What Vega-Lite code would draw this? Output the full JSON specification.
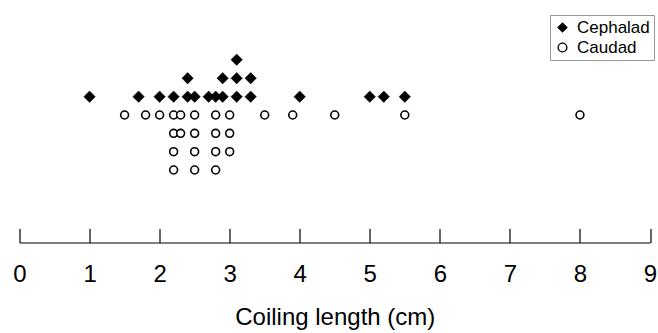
{
  "$schema": "https://vega.github.io/schema/vega-lite/v6.json",
  "autosize": "none",
  "width": 630.5,
  "height": 242.5,
  "padding": {"left": 19.5, "top": 0, "right": 8, "bottom": 91},
  "background": "white",
  "config": {"view": {"stroke": null}, "font": "Liberation Sans"},
  "data": {"values": [
    {"length": 1.0, "group": "Cephalad"},
    {"length": 1.7, "group": "Cephalad"},
    {"length": 2.0, "group": "Cephalad"},
    {"length": 2.2, "group": "Cephalad"},
    {"length": 2.4, "group": "Cephalad"},
    {"length": 2.4, "group": "Cephalad"},
    {"length": 2.5, "group": "Cephalad"},
    {"length": 2.7, "group": "Cephalad"},
    {"length": 2.8, "group": "Cephalad"},
    {"length": 2.9, "group": "Cephalad"},
    {"length": 2.9, "group": "Cephalad"},
    {"length": 3.1, "group": "Cephalad"},
    {"length": 3.1, "group": "Cephalad"},
    {"length": 3.1, "group": "Cephalad"},
    {"length": 3.3, "group": "Cephalad"},
    {"length": 3.3, "group": "Cephalad"},
    {"length": 4.0, "group": "Cephalad"},
    {"length": 5.0, "group": "Cephalad"},
    {"length": 5.2, "group": "Cephalad"},
    {"length": 5.5, "group": "Cephalad"},
    {"length": 1.5, "group": "Caudad"},
    {"length": 1.8, "group": "Caudad"},
    {"length": 2.0, "group": "Caudad"},
    {"length": 2.2, "group": "Caudad"},
    {"length": 2.2, "group": "Caudad"},
    {"length": 2.2, "group": "Caudad"},
    {"length": 2.2, "group": "Caudad"},
    {"length": 2.3, "group": "Caudad"},
    {"length": 2.3, "group": "Caudad"},
    {"length": 2.5, "group": "Caudad"},
    {"length": 2.5, "group": "Caudad"},
    {"length": 2.5, "group": "Caudad"},
    {"length": 2.5, "group": "Caudad"},
    {"length": 2.8, "group": "Caudad"},
    {"length": 2.8, "group": "Caudad"},
    {"length": 2.8, "group": "Caudad"},
    {"length": 2.8, "group": "Caudad"},
    {"length": 3.0, "group": "Caudad"},
    {"length": 3.0, "group": "Caudad"},
    {"length": 3.0, "group": "Caudad"},
    {"length": 3.5, "group": "Caudad"},
    {"length": 3.9, "group": "Caudad"},
    {"length": 4.5, "group": "Caudad"},
    {"length": 5.5, "group": "Caudad"},
    {"length": 8.0, "group": "Caudad"}
  ]},
  "transform": [
    {"window": [{"op": "row_number", "as": "rank"}], "groupby": ["group", "length"]}
  ],
  "encoding": {
    "x": {
      "field": "length", "type": "quantitative",
      "scale": {"domain": [0, 9], "nice": false, "zero": false},
      "axis": {
        "title": "Coiling length (cm)",
        "values": [0, 1, 2, 3, 4, 5, 6, 7, 8, 9],
        "grid": false,
        "domainColor": "black", "domainWidth": 1.2,
        "tickColor": "black", "tickWidth": 1.2, "tickSize": -14,
        "labelFontSize": 24, "labelColor": "black", "labelPadding": 34,
        "labelFlush": false, "labelFont": "Liberation Sans",
        "titleFontSize": 24, "titleFontWeight": "normal", "titleColor": "black",
        "titlePadding": 19, "titleFont": "Liberation Sans"
      }
    },
    "shape": {
      "field": "group", "type": "nominal",
      "scale": {"domain": ["Cephalad", "Caudad"], "range": ["diamond", "circle"]},
      "legend": {
        "title": null, "orient": "none", "legendX": 530.5, "legendY": 15,
        "labelFontSize": 17, "labelColor": "black", "labelFont": "Liberation Sans",
        "strokeColor": "#999", "padding": 4, "symbolSize": 75, "symbolStrokeWidth": 1.4,
        "rowPadding": 2, "labelOffset": 6
      }
    },
    "fill": {
      "field": "group", "type": "nominal",
      "scale": {"domain": ["Cephalad", "Caudad"], "range": ["black", "white"]},
      "legend": null
    }
  },
  "layer": [
    {
      "transform": [{"filter": "datum.group === 'Cephalad'"}],
      "mark": {"type": "point", "filled": true, "stroke": "black", "strokeWidth": 0.5, "size": 130, "opacity": 1},
      "encoding": {
        "y": {"field": "rank", "type": "quantitative", "axis": null,
          "scale": {"domain": [1, 3], "range": [96.7, 59.7], "zero": false, "nice": false}}
      }
    },
    {
      "transform": [{"filter": "datum.group === 'Caudad'"}],
      "mark": {"type": "point", "filled": true, "stroke": "black", "strokeWidth": 1.6, "size": 62, "opacity": 1},
      "encoding": {
        "y": {"field": "rank", "type": "quantitative", "axis": null,
          "scale": {"domain": [1, 4], "range": [115, 170], "zero": false, "nice": false}}
      }
    }
  ],
  "resolve": {"scale": {"y": "independent"}}
}
